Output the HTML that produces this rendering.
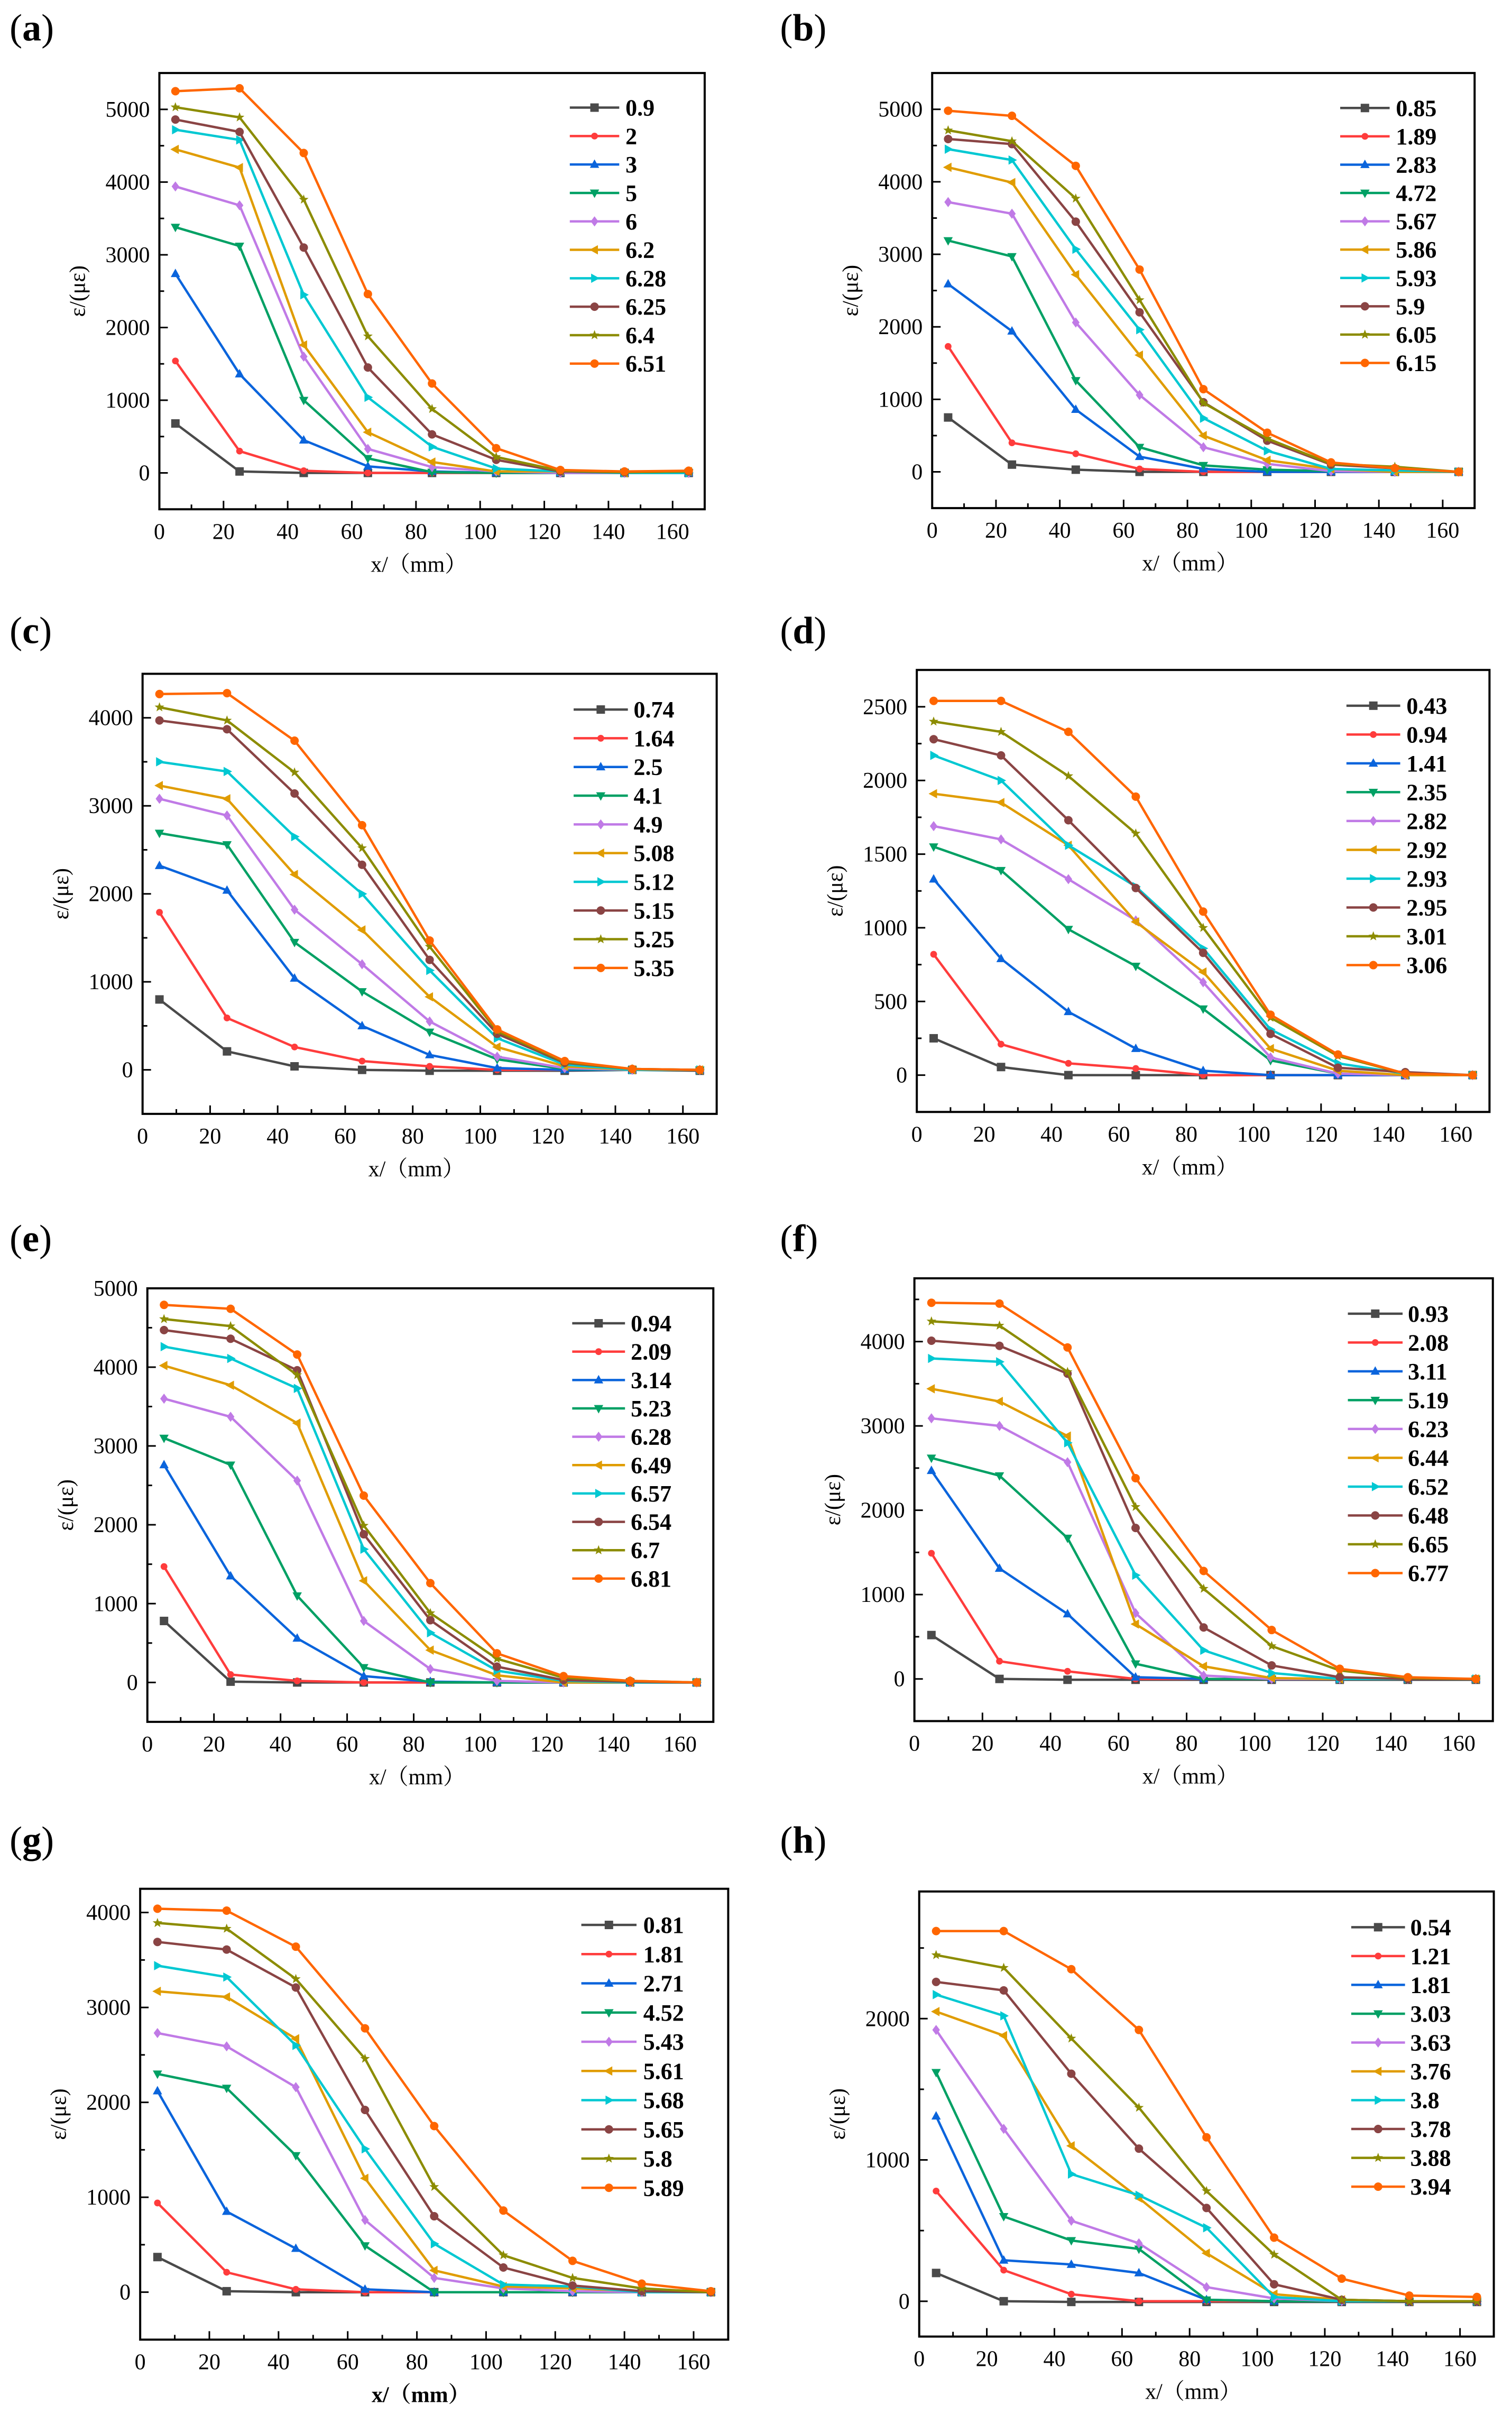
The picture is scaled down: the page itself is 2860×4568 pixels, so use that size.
<!DOCTYPE html>
<html><head><meta charset="utf-8"><style>
html,body{margin:0;padding:0;background:#fff}
svg{display:block}
text{font-family:"Liberation Serif","Noto Serif CJK SC",serif}
</style></head><body>
<svg id="fig" xmlns="http://www.w3.org/2000/svg" width="2860" height="4568" viewBox="0 0 2860 4568">
<rect x="0" y="0" width="2860" height="4568" fill="#fff"/>
</svg>
<script>
const xValues=[5,25,45,65,85,105,125,145,165];
const xTicks=[0,20,40,60,80,100,120,140,160];
const legendA=["0.9","2","3","5","6","6.2","6.28","6.25","6.4","6.51"];
const seriesA=[[680,20,0,0,0,0,0,0,0],[1540,300,30,0,0,0,0,0,20],[2740,1360,450,90,20,0,0,0,0],[3380,3120,1000,200,10,0,0,0,0],[3940,3680,1600,330,80,20,0,0,0],[4450,4200,1760,560,150,20,20,0,20],[4720,4580,2450,1040,360,60,20,0,0],[4860,4690,3100,1450,530,180,20,10,20],[5030,4890,3760,1880,880,220,30,10,20],[5250,5290,4400,2460,1230,340,40,20,30]];
const legendB=["0.85","1.89","2.83","4.72","5.67","5.86","5.93","5.9","6.05","6.15"];
const seriesB=[[750,100,30,0,0,0,0,0,0],[1730,400,250,40,0,0,0,0,0],[2590,1940,860,210,40,0,0,0,0],[3190,2970,1260,340,90,30,10,0,0],[3720,3560,2060,1060,340,110,10,0,0],[4200,3990,2720,1610,500,160,40,0,0],[4450,4300,3070,1960,740,290,40,20,0],[4590,4520,3450,2200,960,430,100,50,0],[4710,4560,3770,2370,950,460,110,70,0],[4980,4910,4220,2790,1140,540,130,50,0]];
const legendC=["0.74","1.64","2.5","4.1","4.9","5.08","5.12","5.15","5.25","5.35"];
const seriesC=[[800,210,40,0,-10,-10,-10,0,-10],[1790,590,260,100,40,0,0,0,0],[2320,2040,1040,500,170,20,0,0,0],[2690,2560,1450,890,430,120,10,0,0],[3080,2890,1820,1200,550,150,20,0,0],[3230,3080,2220,1590,830,260,40,0,0],[3500,3390,2650,2000,1130,360,60,0,0],[3970,3870,3140,2330,1250,410,80,10,0],[4120,3970,3380,2520,1400,440,90,10,0],[4270,4280,3740,2780,1470,460,100,10,0]];
const legendD=["0.43","0.94","1.41","2.35","2.82","2.92","2.93","2.95","3.01","3.06"];
const seriesD=[[250,55,0,0,0,0,0,0,0],[820,210,80,45,0,0,0,0,0],[1330,790,430,180,30,0,0,0,0],[1550,1390,990,740,450,100,10,0,0],[1690,1600,1330,1050,630,120,10,0,0],[1910,1850,1560,1040,700,180,30,0,0],[2170,2000,1560,1280,860,310,80,10,0],[2280,2170,1730,1270,830,280,50,20,0],[2400,2330,2030,1640,1000,390,130,10,0],[2540,2540,2330,1890,1110,410,140,10,0]];
const legendE=["0.94","2.09","3.14","5.23","6.28","6.49","6.57","6.54","6.7","6.81"];
const seriesE=[[780,10,0,0,0,0,0,0,0],[1470,100,20,0,0,0,0,0,0],[2760,1350,560,80,10,0,0,0,0],[3100,2760,1100,190,0,0,0,0,0],[3600,3370,2560,780,170,20,0,0,0],[4020,3770,3290,1290,410,90,0,0,0],[4260,4110,3730,1690,630,150,20,0,0],[4470,4360,3960,1880,790,200,30,10,0],[4610,4520,3900,1990,880,300,60,20,0],[4790,4740,4160,2370,1260,370,80,20,0]];
const legendF=["0.93","2.08","3.11","5.19","6.23","6.44","6.52","6.48","6.65","6.77"];
const seriesF=[[520,0,-10,-10,-10,-10,-10,-10,-10],[1490,210,90,0,0,0,0,0,0],[2470,1310,770,20,0,0,0,0,0],[2620,2410,1670,180,0,0,0,0,0],[3090,3000,2570,780,40,0,0,0,0],[3440,3290,2880,650,150,10,0,0,0],[3800,3760,2800,1230,340,70,0,0,0],[4010,3950,3620,1790,610,160,20,0,0],[4240,4190,3640,2040,1070,390,100,10,0],[4460,4450,3930,2380,1280,580,120,20,0]];
const legendG=["0.81","1.81","2.71","4.52","5.43","5.61","5.68","5.65","5.8","5.89"];
const seriesG=[[370,10,0,0,0,0,0,0,0],[940,210,30,0,0,0,0,0,0],[2120,850,460,30,0,0,0,0,0],[2300,2150,1440,490,0,0,0,0,0],[2730,2590,2160,760,150,40,10,0,0],[3170,3110,2670,1200,230,60,40,10,0],[3440,3320,2600,1510,510,80,60,0,0],[3690,3610,3210,1920,800,260,70,10,0],[3890,3830,3300,2460,1110,390,150,40,0],[4040,4020,3640,2780,1750,860,330,90,10]];
const legendH=["0.54","1.21","1.81","3.03","3.63","3.76","3.8","3.78","3.88","3.94"];
const seriesH=[[200,0,-5,-5,-5,-5,-5,-5,-5],[780,220,50,0,0,0,0,0,0],[1310,290,260,200,10,0,0,0,0],[1620,600,430,370,10,0,0,0,0],[1920,1220,570,410,100,20,0,0,0],[2050,1880,1100,730,340,50,10,0,0],[2170,2020,900,750,520,30,0,0,0],[2260,2200,1610,1080,660,120,10,0,0],[2450,2360,1860,1370,780,330,10,0,0],[2620,2620,2350,1920,1160,450,160,40,30]];
const yTicksA=[0,1000,2000,3000,4000,5000];
const yTicksC=[0,1000,2000,3000,4000];
const yTicksD=[0,500,1000,1500,2000,2500];
const yTicksH=[0,1000,2000];

const colors=["#4a4a4a","#ff3c3c","#0a64dc","#00a064","#c07ae6","#e09c00","#00c8d2","#8a4444","#8c8c00","#ff6600"];
const NS="http://www.w3.org/2000/svg";
const svg=document.getElementById('fig');
function mk(tag,attrs,parent){const e=document.createElementNS(NS,tag);for(const k in attrs)e.setAttribute(k,attrs[k]);(parent||svg).appendChild(e);return e;}

const panels=[
 {id:"a",off:[0,0],L:332,R:1468,T:190,B:1325,ymin:-500,ymax:5500,ticks:yTicksA,minor:500,lg:[1187,1290,1303,280,74],lab:20,data:seriesA,legend:legendA},
 {id:"b",off:[1430,0],L:367,R:1497,T:190,B:1322,ymin:-500,ymax:5500,ticks:yTicksA,minor:500,lg:[1217,1320,1333,281,73.7],lab:50,data:seriesB,legend:legendB},
 {id:"c",off:[0,1140],L:297,R:1493,T:185,B:1330,ymin:-500,ymax:4500,ticks:yTicksC,minor:500,lg:[1195,1308,1320,278,74.7],lab:20,data:seriesC,legend:legendC},
 {id:"d",off:[1430,1140],L:335,R:1528,T:175,B:1325,ymin:-250,ymax:2750,ticks:yTicksD,minor:250,lg:[1230,1342,1355,268,75],lab:50,data:seriesD,legend:legendD},
 {id:"e",off:[0,2290],L:307,R:1486,T:202,B:1330,ymin:-500,ymax:5000,ticks:yTicksA,minor:500,lg:[1192,1302,1314,293,73.8],lab:20,data:seriesE,legend:legendE},
 {id:"f",off:[1430,2290],L:330,R:1535,T:176,B:1328,ymin:-500,ymax:4750,ticks:yTicksC,minor:500,lg:[1233,1347,1358,268,75],lab:50,data:seriesF,legend:legendF},
 {id:"g",off:[0,3428],L:292,R:1517,T:199,B:1372,ymin:-500,ymax:4250,ticks:yTicksC,minor:500,lg:[1211,1326,1340,293,76],lab:20,data:seriesG,legend:legendG},
 {id:"h",off:[1430,3428],L:340,R:1537,T:206,B:1364,ymin:-250,ymax:2900,ticks:yTicksH,minor:500,lg:[1240,1352,1363,299,75],lab:50,data:seriesH,legend:legendH}
];

function marker(g,i,cx,cy,c){
  const s=8;let el;
  if(i===0)el=mk('rect',{x:cx-s,y:cy-s,width:2*s,height:2*s,fill:c},g);
  else if(i===1)el=mk('circle',{cx:cx,cy:cy,r:s*0.8,fill:c},g);
  else if(i===2)el=mk('polygon',{points:`${cx},${cy-s*1.2} ${cx+s*1.1},${cy+s*0.8} ${cx-s*1.1},${cy+s*0.8}`,fill:c},g);
  else if(i===3)el=mk('polygon',{points:`${cx},${cy+s*1.2} ${cx+s*1.1},${cy-s*0.8} ${cx-s*1.1},${cy-s*0.8}`,fill:c},g);
  else if(i===4)el=mk('polygon',{points:`${cx},${cy-s*1.2} ${cx+s*0.9},${cy} ${cx},${cy+s*1.2} ${cx-s*0.9},${cy}`,fill:c},g);
  else if(i===5)el=mk('polygon',{points:`${cx-s*1.2},${cy} ${cx+s*0.8},${cy-s*1.1} ${cx+s*0.8},${cy+s*1.1}`,fill:c},g);
  else if(i===6)el=mk('polygon',{points:`${cx+s*1.2},${cy} ${cx-s*0.8},${cy-s*1.1} ${cx-s*0.8},${cy+s*1.1}`,fill:c},g);
  else if(i===8){let p=[];for(let k=0;k<10;k++){const r=k%2?s*0.5:s*1.2;const a=-Math.PI/2+k*Math.PI/5;p.push((cx+r*Math.cos(a)).toFixed(1)+','+(cy+r*Math.sin(a)).toFixed(1));}el=mk('polygon',{points:p.join(' '),fill:c},g);}
  else el=mk('circle',{cx:cx,cy:cy,r:s,fill:c},g);
  
  
}

panels.forEach(p=>{
  const ox=p.off[0],oy=p.off[1];
  const X=z=>ox+z*0.908, Y=z=>oy+z*0.727;
  const L=X(p.L),R=X(p.R),T=Y(p.T),B=Y(p.B);
  const xs=v=>L+v/170*(R-L);
  const ys=v=>B-(v-p.ymin)/(p.ymax-p.ymin)*(B-T);
  const g=mk('g',{});
  
  
  const lab=mk('text',{x:X(p.lab),y:Y(105),'font-size':72},g);
  
  
  lab.innerHTML='(<tspan font-weight="bold">'+p.id+'</tspan>)';
  const box=mk('rect',{x:L,y:T,width:R-L,height:B-T,fill:'none',stroke:'#000','stroke-width':4},g);
  
  
  // x ticks
  for(let v=0;v<=170;v+=10){
    const major=v%20===0;
    const t=mk('line',{x1:xs(v),x2:xs(v),y1:B,y2:B-(major?16:9),stroke:'#000','stroke-width':3},g);
    
    
  }
  xTicks.forEach(v=>{
    const t=mk('text',{x:xs(v),y:B+56,'font-size':42,'text-anchor':'middle'},g);
    
    
    t.textContent=v;
  });
  // y ticks
  const top=p.ticks[p.ticks.length-1];
  for(let v=0;v<=p.ymax+1;v+=p.minor){
    const major=p.ticks.indexOf(v)>=0;
    const t=mk('line',{x1:L,x2:L+(major?16:9),y1:ys(v),y2:ys(v),stroke:'#000','stroke-width':3},g);
    
    
  }
  p.ticks.forEach(v=>{
    const t=mk('text',{x:L-18,y:ys(v)+14,'font-size':42,'text-anchor':'end'},g);
    
    
    t.textContent=v;
  });
  const xl=mk('text',{x:(L+R)/2-25,y:B+118,'font-size':42,'text-anchor':'middle','font-weight':p.id==='g'?'bold':'normal'},g);
  
  
  xl.textContent='x/（mm）';
  const yc=(T+B)/2, yx=X(p.L-155);
  const yl=mk('text',{x:yx,y:yc,'font-size':42,'text-anchor':'middle',transform:`rotate(-90 ${yx} ${yc})`},g);
  
  
  yl.textContent='ε/(με)';
  // series
  p.data.forEach((s,i)=>{
    const c=colors[i];
    const sg=mk('g',{},g);
    
    
    const pts=s.map((v,k)=>xs(xValues[k]).toFixed(1)+','+ys(v).toFixed(1)).join(' ');
    const pl=mk('polyline',{points:pts,fill:'none',stroke:c,'stroke-width':4.5,'stroke-linejoin':'round'},sg);
    
    
    s.forEach((v,k)=>marker(sg,i,xs(xValues[k]),ys(v),c));
  });
  // legend
  const [lx1,lx2,tx,ly0,dy]=p.lg;
  p.legend.forEach((name,i)=>{
    const y=Y(ly0+i*dy);
    const lg=mk('g',{},g);
    
    
    mk('line',{x1:X(lx1),x2:X(lx2),y1:y,y2:y,stroke:colors[i],'stroke-width':4.5},lg);
    marker(lg,i,(X(lx1)+X(lx2))/2,y,colors[i]);
    const t=mk('text',{x:X(tx),y:y+15,'font-size':44,'font-weight':'bold'},lg);
    
    
    t.textContent=name;
  });
});
</script>
</body></html>
